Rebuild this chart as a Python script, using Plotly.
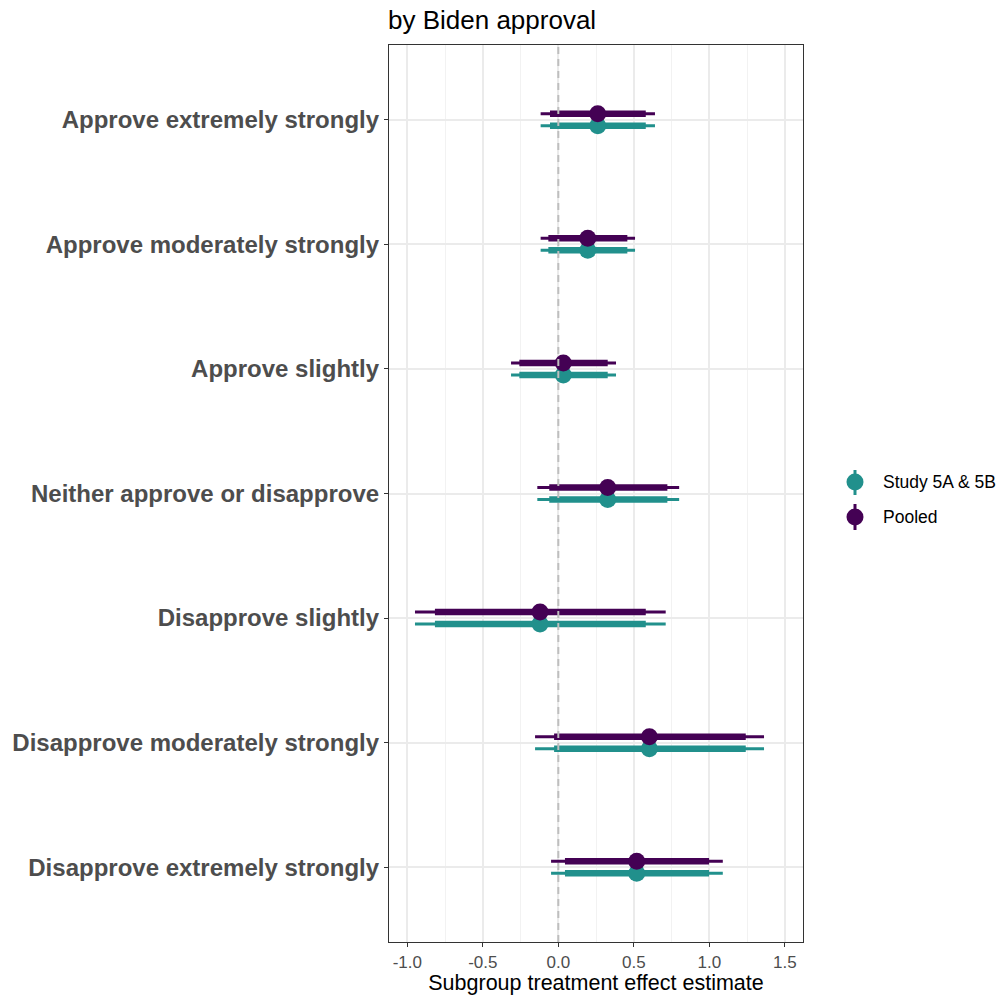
import plotly.graph_objects as go

categories = [
    "Approve extremely strongly",
    "Approve moderately strongly",
    "Approve slightly",
    "Neither approve or disapprove",
    "Disapprove slightly",
    "Disapprove moderately strongly",
    "Disapprove extremely strongly",
]

# Study 5A & 5B
study_est = [0.261, 0.195, 0.033, 0.327, -0.121, 0.603, 0.519]
study_lo90 = [-0.055, -0.066, -0.258, -0.060, -0.817, -0.028, 0.044]
study_hi90 = [0.579, 0.457, 0.327, 0.722, 0.579, 1.241, 0.998]
study_lo95 = [-0.117, -0.117, -0.313, -0.139, -0.949, -0.154, -0.048]
study_hi95 = [0.640, 0.508, 0.382, 0.800, 0.711, 1.362, 1.089]

# Pooled
pooled_est = [0.261, 0.195, 0.033, 0.327, -0.121, 0.603, 0.519]
pooled_lo90 = [-0.055, -0.066, -0.258, -0.060, -0.817, -0.028, 0.044]
pooled_hi90 = [0.579, 0.457, 0.327, 0.722, 0.579, 1.241, 0.998]
pooled_lo95 = [-0.117, -0.117, -0.313, -0.139, -0.949, -0.154, -0.048]
pooled_hi95 = [0.640, 0.508, 0.382, 0.800, 0.711, 1.362, 1.089]

x_ticks = [-1.0, -0.5, 0.0, 0.5, 1.0, 1.5]
x_ticktext = ["-1.0", "-0.5", "0.0", "0.5", "1.0", "1.5"]

TEAL = "#21908C"
PURPLE = "#440154"
FONT = "Liberation Sans, Arial, Helvetica, sans-serif"

n = len(categories)
ypos = [n - i for i in range(n)]  # top category highest
dodge = 0.048

fig = go.Figure()


def seg(lo, hi, ys):
    xs, yy = [], []
    for a, b, y in zip(lo, hi, ys):
        xs += [a, b, None]
        yy += [y, y, None]
    return xs, yy


series = [
    ("Study 5A & 5B", TEAL, study_est, study_lo90, study_hi90, study_lo95, study_hi95, -dodge),
    ("Pooled", PURPLE, pooled_est, pooled_lo90, pooled_hi90, pooled_lo95, pooled_hi95, dodge),
]

for name, col, est, lo90, hi90, lo95, hi95, off in series:
    ys = [y + off for y in ypos]
    xs, yy = seg(lo95, hi95, ys)
    fig.add_trace(go.Scatter(x=xs, y=yy, mode="lines", line=dict(color=col, width=3),
                             showlegend=False, hoverinfo="skip"))
    xs, yy = seg(lo90, hi90, ys)
    fig.add_trace(go.Scatter(x=xs, y=yy, mode="lines", line=dict(color=col, width=6.5),
                             showlegend=False, hoverinfo="skip"))
    fig.add_trace(go.Scatter(x=est, y=ys, mode="markers",
                             marker=dict(color=col, size=17, line=dict(width=0)),
                             showlegend=False, name=name))

# manual legend keys (pointrange-style)
legend_items = [("Study 5A & 5B", TEAL, 48), ("Pooled", PURPLE, 13)]
for name, col, ky in legend_items:
    fig.add_trace(go.Scatter(x=[10], y=[ky], mode="markers", xaxis="x2", yaxis="y2",
                             marker=dict(color=col, size=17),
                             error_y=dict(type="constant", value=13, color=col, thickness=3, width=0),
                             showlegend=False, hoverinfo="skip"))

pw = 1000 - 389
main_w = (803 - 389) / pw

fig.add_vline(x=0, line=dict(color="#BEBEBE", width=2, dash="7px,5px"), layer="above")

annotations = []
for name, col, ky in legend_items:
    py = 530 - ky
    annotations.append(dict(x=(881 - 389) / pw, y=(942 - py) / 897, xref="paper", yref="paper",
                            text=name, showarrow=False, xanchor="left", yanchor="middle",
                            font=dict(family=FONT, size=17.5, color="#000000")))

fig.update_layout(
    width=1000, height=996,
    margin=dict(l=389, r=0, t=45, b=54),
    plot_bgcolor="white", paper_bgcolor="white",
    showlegend=False,
    font=dict(family=FONT),
    title=dict(text="by Biden approval", x=388 / 1000, xanchor="left", y=1 - 20 / 996, yanchor="middle",
               font=dict(family=FONT, size=26, color="#000000")),
    xaxis=dict(domain=[0, main_w], range=[-1.121, 1.620], tickvals=x_ticks, ticktext=x_ticktext,
               showgrid=True, gridcolor="#EBEBEB", gridwidth=2,
               minor=dict(dtick=0.25, tick0=-1.0, showgrid=True, gridcolor="#F2F2F2", gridwidth=1),
               zeroline=False, showline=True, linecolor="#333333", linewidth=1.2, mirror=True,
               ticks="outside", ticklen=4, tickcolor="#333333", tickwidth=1.3,
               tickfont=dict(family=FONT, size=17, color="#4D4D4D"),
               title=dict(text="Subgroup treatment effect estimate", standoff=2,
                          font=dict(family=FONT, size=21.5, color="#000000"))),
    yaxis=dict(range=[0.4, n + 0.6], tickvals=ypos, ticktext=categories,
               showgrid=True, gridcolor="#EBEBEB", gridwidth=2, zeroline=False,
               showline=True, linecolor="#333333", linewidth=1.2, mirror=True,
               ticks="outside", ticklen=4, tickcolor="#333333", tickwidth=1.3,
               tickfont=dict(family=FONT, size=24, color="#4D4D4D", weight="bold")),
    xaxis2=dict(domain=[(845 - 389) / pw, (865 - 389) / pw], range=[0, 20], anchor="y2",
                visible=False, showgrid=False, zeroline=False),
    yaxis2=dict(domain=[(942 - 530) / 897, (942 - 470) / 897], range=[0, 60], anchor="x2",
                visible=False, showgrid=False, zeroline=False),
    annotations=annotations,
)

fig.write_html("out.html")
